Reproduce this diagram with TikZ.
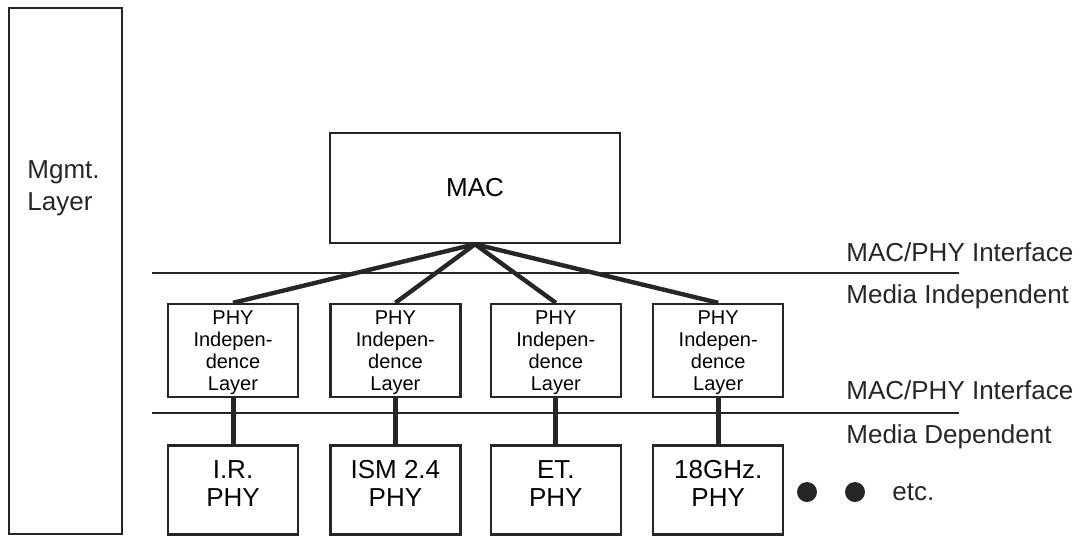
\documentclass[tikz,border=0pt]{standalone}
\usepackage{fontspec}
\setmainfont{Liberation Sans}
\usepackage{xcolor}
\usepackage{tikz}
\usetikzlibrary{positioning}
\definecolor{Ink}{HTML}{262626}
\tikzset{
  mgmtbox/.style={draw=Ink, line width=1.2pt, minimum width=56.5pt, minimum height=263pt, inner sep=0pt},
  macbox/.style={draw=Ink, line width=1.2pt, minimum width=145pt, minimum height=55pt, font=\fontsize{13}{13.5}\selectfont},
  indepbox/.style={draw=Ink, line width=1.2pt, minimum width=65pt, minimum height=46.5pt, align=center, inner sep=0pt, text depth=-2pt, font=\fontsize{10}{11}\selectfont},
  phybox/.style={draw=Ink, line width=1.2pt, minimum width=65pt, minimum height=44.5pt, align=center, inner sep=0pt, text depth=6pt, font=\fontsize{13}{14}\selectfont},
  sidelabel/.style={anchor=west, inner sep=0pt, text=Ink, font=\fontsize{13}{13.5}\selectfont},
  fanline/.style={draw=Ink, line width=2.2pt},
  stemline/.style={draw=Ink, line width=2.5pt},
  ruleline/.style={draw=Ink, line width=1pt},
  bulletdot/.style={circle, fill=Ink, minimum size=10pt, inner sep=0pt}
}
\begin{document}
\begin{tikzpicture}[x=0.5pt, y=-0.5pt]
  \useasboundingbox (0,0) rectangle (1084,537);
  \node[mgmtbox] (mgmt) at (65.5,271) {};
  \node[sidelabel, align=left, font=\fontsize{13}{16}\selectfont] (mgmtlbl) at (27,188) {Mgmt.\\Layer};
  \node[macbox] (mac) at (475,188) {MAC};
  \node[indepbox] (indep1) at (233,350.5) {PHY\\Indepen-\\dence\\Layer};
  \node[indepbox, right=15pt of indep1] (indep2) {PHY\\Indepen-\\dence\\Layer};
  \node[indepbox, right=14pt of indep2] (indep3) {PHY\\Indepen-\\dence\\Layer};
  \node[indepbox, right=15pt of indep3] (indep4) {PHY\\Indepen-\\dence\\Layer};
  \node[phybox, below=23pt of indep1] (phy1) {I.R.\\PHY};
  \node[phybox, below=23pt of indep2] (phy2) {ISM 2.4\\PHY};
  \node[phybox, below=23pt of indep3] (phy3) {ET.\\PHY};
  \node[phybox, below=23pt of indep4] (phy4) {18GHz.\\PHY};
  \coordinate (rule1w) at (152,273);
  \coordinate (rule1e) at (959,273);
  \coordinate (rule2w) at (152,413);
  \coordinate (rule2e) at (959,413);
  \draw[ruleline] (rule1w) -- (rule1e);
  \draw[ruleline] (rule2w) -- (rule2e);
  \draw[fanline] (mac.south) -- (indep1.north);
  \draw[fanline] (mac.south) -- (indep2.north);
  \draw[fanline] (mac.south) -- (indep3.north);
  \draw[fanline] (mac.south) -- (indep4.north);
  \draw[stemline] (indep1) -- (phy1);
  \draw[stemline] (indep2) -- (phy2);
  \draw[stemline] (indep3) -- (phy3);
  \draw[stemline] (indep4) -- (phy4);
  \node[sidelabel] (topif) at (846,252) {MAC/PHY Interface};
  \node[sidelabel] (indeplbl) at (846,297) {Media Independent};
  \node[sidelabel] (lowif) at (846,390) {MAC/PHY Interface};
  \node[sidelabel] (deplbl) at (846,437) {Media Dependent};
  \node[bulletdot] (dot1) at (807,492) {};
  \node[bulletdot] (dot2) at (855,492) {};
  \node[sidelabel] (etc) at (892,492) {etc.};
\end{tikzpicture}
\end{document}
